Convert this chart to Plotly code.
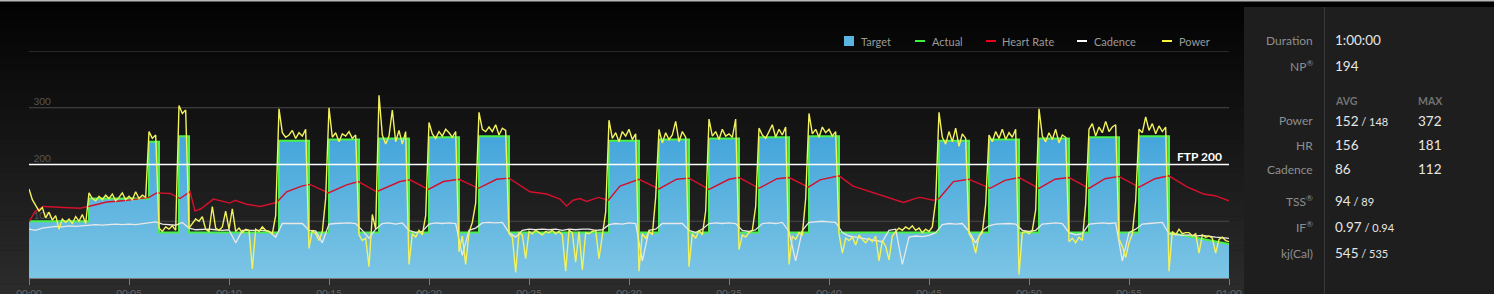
import plotly.graph_objects as go
import numpy as np

# ---------------- data ----------------
# Target workout segments (minutes, watts)
seg_start = [0, 3, 6, 6.5, 7.5, 8,
             12.5, 14, 15, 16.5, 17.5, 19, 20, 21.5, 22.5, 24,
             29, 30.5, 31.5, 33, 34, 35.5, 36.5, 38, 39, 40.5,
             45.5, 47, 48, 49.5, 50.5, 52, 53, 54.5, 55.5, 57]
seg_end = [3, 6, 6.5, 7.5, 8, 12.5,
           14, 15, 16.5, 17.5, 19, 20, 21.5, 22.5, 24, 29,
           30.5, 31.5, 33, 34, 35.5, 36.5, 38, 39, 40.5, 45.5,
           47, 48, 49.5, 50.5, 52, 53, 54.5, 55.5, 57, 60]
seg_w_start = [100, 140, 240, 80, 250, 80,
               242, 80, 244, 80, 246, 80, 248, 80, 250, 80,
               242, 80, 244, 80, 246, 80, 248, 80, 250, 80,
               242, 80, 244, 80, 246, 80, 248, 80, 250, 80]
seg_w_end = [100, 140, 240, 80, 250, 80,
             242, 80, 244, 80, 246, 80, 248, 80, 250, 80,
             242, 80, 244, 80, 246, 80, 248, 80, 250, 80,
             242, 80, 244, 80, 246, 80, 248, 80, 250, 60]

# Power, one value every 10 s (6 per minute) + final sample
power_w = [
    157, 138, 128, 118, 124, 106,   # 0
    116, 102, 110, 86, 104, 98,     # 1
    104, 96, 108, 100, 112, 96,     # 2
    150, 140, 136, 144, 138, 146,   # 3
    140, 148, 136, 142, 150, 138,   # 4
    144, 138, 152, 140, 146, 142,   # 5
    258, 246, 252, 88, 82, 90,      # 6
    86, 92, 84, 304, 290, 296,      # 7
    88, 96, 104, 100, 108, 86,      # 8
    82, 126, 88, 84, 90, 118,       # 9
    86, 122, 82, 88, 80, 86,        # 10
    84, 16, 86, 82, 90, 84,         # 11
    82, 78, 110, 298, 256, 248,     # 12
    252, 260, 246, 256, 250, 262,   # 13
    52, 84, 78, 66, 82, 140,        # 14
    300, 248, 256, 240, 254, 250,   # 15
    258, 246, 252, 76, 66, 70,      # 16
    20, 112, 86, 322, 252, 236,     # 17
    250, 296, 240, 260, 236, 258,   # 18
    24, 78, 72, 84, 76, 110,        # 19
    274, 254, 246, 258, 250, 262,   # 20
    256, 248, 258, 46, 74, 24,      # 21
    80, 98, 132, 292, 262, 258,     # 22
    266, 258, 270, 252, 264, 260,   # 23
    78, 72, 10, 80, 76, 34,         # 24
    82, 78, 84, 80, 76, 82,         # 25
    80, 84, 78, 82, 76, 12,         # 26
    84, 80, 28, 82, 14, 80,         # 27
    78, 82, 84, 34, 80, 116,        # 28
    278, 246, 256, 240, 258, 250,   # 29
    262, 244, 254, 12, 78, 70,      # 30
    82, 76, 142, 262, 238, 256,     # 31
    244, 252, 276, 240, 258, 248,   # 32
    20, 78, 70, 84, 76, 118,        # 33
    280, 250, 258, 244, 262, 250,   # 34
    254, 248, 280, 50, 76, 72,      # 35
    80, 84, 126, 264, 252, 246,     # 36
    258, 270, 248, 262, 252, 266,   # 37
    24, 74, 68, 80, 76, 140,        # 38
    290, 254, 262, 248, 266, 256,   # 39
    262, 250, 258, 78, 44, 70,      # 40
    66, 72, 58, 76, 68, 62,         # 41
    70, 64, 74, 30, 66, 56,         # 42
    32, 74, 82, 88, 84, 90,         # 43
    86, 92, 84, 88, 80, 86,         # 44
    82, 90, 136, 292, 248, 236,     # 45
    258, 240, 264, 232, 254, 246,   # 46
    78, 68, 44, 74, 80, 130,        # 47
    252, 240, 258, 246, 262, 244,   # 48
    256, 248, 262, 6, 80, 82,       # 49
    78, 84, 120, 298, 250, 240,     # 50
    256, 244, 262, 238, 252, 248,   # 51
    64, 70, 62, 72, 66, 130,        # 52
    262, 272, 250, 266, 256, 276,   # 53
    258, 266, 270, 68, 56, 36,      # 54
    62, 78, 136, 262, 256, 284,     # 55
    260, 272, 254, 268, 258, 266,   # 56
    12, 82, 76, 86, 78, 80,         # 57
    80, 74, 78, 44, 76, 72,         # 58
    74, 70, 44, 68, 72, 66,         # 59
    64]

# Cadence, one value every 20 s (3 per minute) + final sample
cadence_rpm = [
    86, 84, 88,  90, 91, 90,  92, 91, 92,  93, 94, 93,  94, 95, 94,      # 0-4
    95, 94, 96,  98, 99, 95,  94, 93, 98,  88, 85, 86,  86, 85, 84,      # 5-9
    85, 62, 84,  84, 83, 84,  82, 72, 96,  96, 97, 96,  84, 83, 62,      # 10-14
    95, 96, 97,  97, 96, 84,  70, 86, 96,  97, 95, 97,  84, 80, 82,      # 15-19
    95, 97, 96,  97, 96, 40,  84, 88, 97,  98, 97, 98,  80, 72, 84,      # 20-24
    86, 85, 86,  85, 86, 84,  86, 85, 86,  86, 84, 85,  94, 96, 95,      # 25-29
    97, 96, 30,  84, 86, 96,  96, 97, 96,  84, 80, 86,  96, 97, 96,      # 30-34
    97, 96, 84,  82, 85, 96,  97, 96, 98,  82, 30, 84,  98, 99, 100,     # 35-39
    99, 98, 80,  74, 72, 70,  68, 66, 64,  84, 86, 24,  72, 74, 73,      # 40-44
    75, 80, 94,  96, 95, 96,  82, 62, 84,  92, 95, 96,  96, 95, 84,      # 45-49
    82, 84, 95,  96, 97, 96,  80, 76, 78,  95, 96, 97,  96, 97, 30,      # 50-54
    80, 86, 95,  96, 97, 98,  78, 76, 75,  76, 74, 75,  73, 72, 71,      # 55-59
    70]

# Heart rate (minute, bpm)
hr_min = [0, 0.3, 0.72, 1.5, 2.55, 2.97, 3.88, 4.7, 5.55, 6.0, 6.38, 7.05, 7.55, 8.05,
          8.3, 8.6, 9.22, 9.7, 10.05, 10.3, 10.88, 11.55, 12.38, 12.88, 13.63, 14.05,
          14.97, 15.88, 16.47, 17.38, 18.55, 19.05, 19.97, 20.72, 21.5, 22.47, 23.38,
          24.0, 25.05, 25.88, 26.55, 26.88, 27.2, 27.55, 27.88, 28.47, 28.97, 29.55,
          30.5, 31.5, 32.38, 33.0, 34.0, 35.0, 35.5, 36.5, 37.4, 38.0, 38.97, 39.55,
          40.5, 41.2, 42.38, 43.0, 43.72, 44.3, 44.55, 45.22, 45.5, 46.22, 47.0, 48.05,
          48.8, 49.5, 50.5, 51.3, 52.0, 53.0, 53.8, 54.5, 55.5, 56.3, 57.0, 57.88,
          58.72, 59.3, 60]
hr_bpm = [99, 117, 126, 125, 123, 126, 134, 136, 140, 142, 150, 149, 140, 152,
          118, 122, 139, 135, 132, 137, 130, 126, 133, 152, 162, 165,
          150, 164, 170, 152, 170, 173, 156, 170, 174, 158, 174,
          176, 152, 148, 139, 127, 137, 140, 135, 142, 137, 162,
          174, 157, 174, 176, 156, 174, 177, 158, 175, 177, 160, 173,
          180, 162, 149, 142, 133, 140, 142, 137, 140, 170, 174, 158,
          172, 177, 158, 174, 177, 158, 175, 179, 160, 175, 180, 161,
          148, 145, 136]

ftp_watts = 200
y_grid = [100, 300, 400]
y_label_vals = [100, 200, 300]
y_label_text = ["100", "200", "300"]
tick_minutes = [0, 5, 10, 15, 20, 25, 30, 35, 40, 45, 50, 55, 60]
tick_labels = ["00:00", "00:05", "00:10", "00:15", "00:20", "00:25", "00:30",
               "00:35", "00:40", "00:45", "00:50", "00:55", "01:00"]

legend_names = ["Target", "Actual", "Heart Rate", "Cadence", "Power"]

stat_labels = ["Duration", "NP<sup>®</sup>", "Power", "HR", "Cadence",
               "TSS<sup>®</sup>", "IF<sup>®</sup>", "kj(Cal)"]
stat_main = ["1:00:00", "194", "152", "156", "86", "94", "0.97", "545"]
stat_alt = ["", "", "148", "", "", "89", "0.94", "535"]
stat_max = ["", "", "372", "181", "112", "", "", ""]

# ---------------- layout helpers ----------------
W, H = 1494, 294
PL, PR, PT, PB = 29, 1229, 51, 278


def fx(p):
    return (p - PL) / (PR - PL)


def fy(p):
    return (PB - p) / (PB - PT)


# target polyline from segments
tx, ty = [], []
for s, e, ws, we in zip(seg_start, seg_end, seg_w_start, seg_w_end):
    tx += [s, e]
    ty += [ws, we]

t_power = np.arange(len(power_w)) / 6.0
t_cad = np.arange(len(cadence_rpm)) / 3.0

FONT = "Lato, 'Open Sans', sans-serif"

fig = go.Figure()

# y-axis value labels drawn first so the data covers them (as in the reference)
fig.add_trace(go.Scatter(
    x=[0.22] * len(y_label_vals), y=y_label_vals, mode="text", text=y_label_text,
    textposition="top right", textfont=dict(family=FONT, size=10, color="#575757"),
    hoverinfo="skip", showlegend=False))

fig.add_trace(go.Scatter(
    x=tx, y=ty, mode="lines", name="Target", line=dict(width=0, color="#5ab4e0"),
    fill="tozeroy",
    fillgradient=dict(type="vertical", colorscale=[[0, "#7cc5e5"], [1, "#44a5db"]],
                      start=0, stop=250),
    hoverinfo="skip"))
fig.add_trace(go.Scatter(x=tx, y=ty, mode="lines", name="Actual",
                         line=dict(color="#48f048", width=2)))
fig.add_trace(go.Scatter(x=hr_min, y=hr_bpm, mode="lines", name="Heart Rate",
                         line=dict(color="#d4102c", width=1.4)))
fig.add_trace(go.Scatter(x=t_cad, y=cadence_rpm, mode="lines", name="Cadence",
                         line=dict(color="#e8e8e8", width=1.3)))
fig.add_trace(go.Scatter(x=t_power, y=power_w, mode="lines", name="Power",
                         line=dict(color="#f2f25c", width=1.4)))

shapes = []
# background gradient bands
nb = 60
for i in range(nb):
    y0 = 2 + i * (H - 2) / nb
    y1 = 2 + (i + 1) * (H - 2) / nb
    c = int(round(2 + 42 * (i + 0.5) / nb))
    shapes.append(dict(type="rect", xref="paper", yref="paper", layer="below",
                       x0=fx(0), x1=fx(W), y0=fy(y1 + 0.5), y1=fy(y0),
                       line=dict(width=0), fillcolor=f"rgb({c},{c},{c})"))
# top light border
shapes.append(dict(type="rect", xref="paper", yref="paper", layer="below",
                   x0=fx(0), x1=fx(W), y0=fy(1.6), y1=fy(0),
                   line=dict(width=0), fillcolor="#b8b8b8"))
# right stats panel
shapes.append(dict(type="rect", xref="paper", yref="paper", layer="below",
                   x0=fx(1244), x1=fx(W), y0=fy(H), y1=fy(7),
                   line=dict(width=0), fillcolor="#1e1e1e"))
shapes.append(dict(type="line", xref="paper", yref="paper", layer="below",
                   x0=fx(1324.5), x1=fx(1324.5), y0=fy(H), y1=fy(7),
                   line=dict(width=1, color="#3a3a3a")))
# horizontal grid lines (below the data)
for g in y_grid:
    shapes.append(dict(type="line", xref="x", yref="y", layer="below",
                       x0=0, x1=60, y0=g, y1=g, line=dict(width=1, color="#4a4a4a")))
# FTP line
shapes.append(dict(type="line", xref="x", yref="y", layer="above",
                   x0=0, x1=60, y0=ftp_watts, y1=ftp_watts,
                   line=dict(width=1.5, color="#ffffff")))

# custom legend
leg_sym_x = [844, 915, 986, 1077, 1162]
leg_txt_x = [859, 930, 1000, 1092, 1177]
leg_colors = ["#5ab4e0", "#3df23d", "#e8001c", "#ffffff", "#f5f53c"]
annotations = []
for i, name in enumerate(legend_names):
    if i == 0:
        shapes.append(dict(type="rect", xref="paper", yref="paper",
                           x0=fx(leg_sym_x[i]), x1=fx(leg_sym_x[i] + 10),
                           y0=fy(46), y1=fy(36), line=dict(width=0),
                           fillcolor=leg_colors[i]))
    else:
        shapes.append(dict(type="line", xref="paper", yref="paper",
                           x0=fx(leg_sym_x[i]), x1=fx(leg_sym_x[i] + 10),
                           y0=fy(41), y1=fy(41),
                           line=dict(width=2, color=leg_colors[i])))
    annotations.append(dict(xref="paper", yref="paper", x=fx(leg_txt_x[i]), y=fy(41),
                            xanchor="left", yanchor="middle", showarrow=False,
                            text=name, font=dict(family=FONT, size=11, color="#9a9a9a")))

# FTP label
annotations.append(dict(xref="paper", yref="y", x=fx(1224), y=ftp_watts,
                        xanchor="right", yanchor="bottom", showarrow=False, yshift=-1,
                        text=f"<b>FTP {ftp_watts}</b>",
                        font=dict(family=FONT, size=12, color="#ffffff")))

# stats panel text
row_y = [40, 66, 121, 145, 169, 201, 227, 253]
for i in range(len(stat_labels)):
    annotations.append(dict(xref="paper", yref="paper", x=fx(1315), y=fy(row_y[i]),
                            xanchor="right", yanchor="middle", showarrow=False,
                            text=stat_labels[i],
                            font=dict(family=FONT, size=12, color="#8e8e8e")))
    txt = stat_main[i]
    if stat_alt[i]:
        txt += f"<span style='font-size:11px'> / {stat_alt[i]}</span>"
    annotations.append(dict(xref="paper", yref="paper", x=fx(1333), y=fy(row_y[i]),
                            xanchor="left", yanchor="middle", showarrow=False,
                            text=txt, font=dict(family=FONT, size=13.5, color="#e6e6e6")))
    if stat_max[i]:
        annotations.append(dict(xref="paper", yref="paper", x=fx(1416), y=fy(row_y[i]),
                                xanchor="left", yanchor="middle", showarrow=False,
                                text=stat_max[i],
                                font=dict(family=FONT, size=13.5, color="#e6e6e6")))
for label, xp in (("AVG", 1333), ("MAX", 1416)):
    annotations.append(dict(xref="paper", yref="paper", x=fx(xp), y=fy(101),
                            xanchor="left", yanchor="middle", showarrow=False,
                            text=f"<b>{label}</b>",
                            font=dict(family=FONT, size=10.5, color="#737373")))

fig.update_layout(
    width=W, height=H,
    margin=dict(l=PL, r=W - PR, t=PT, b=H - PB, pad=0, autoexpand=False),
    paper_bgcolor="#000000", plot_bgcolor="rgba(0,0,0,0)",
    showlegend=False,
    shapes=shapes, annotations=annotations,
    font=dict(family=FONT),
    xaxis=dict(range=[0, 60], tickvals=tick_minutes, ticktext=tick_labels,
               showgrid=False, zeroline=False, showline=True, linecolor="#7a7a7a",
               linewidth=1, ticks="outside", ticklen=6, tickcolor="#7a7a7a",
               tickfont=dict(family=FONT, size=10, color="#666666"),
               fixedrange=True),
    yaxis=dict(range=[0, 400], showticklabels=False, showgrid=False,
               zeroline=False, showline=False, ticks="", fixedrange=True),
)

fig.write_html("out.html")
